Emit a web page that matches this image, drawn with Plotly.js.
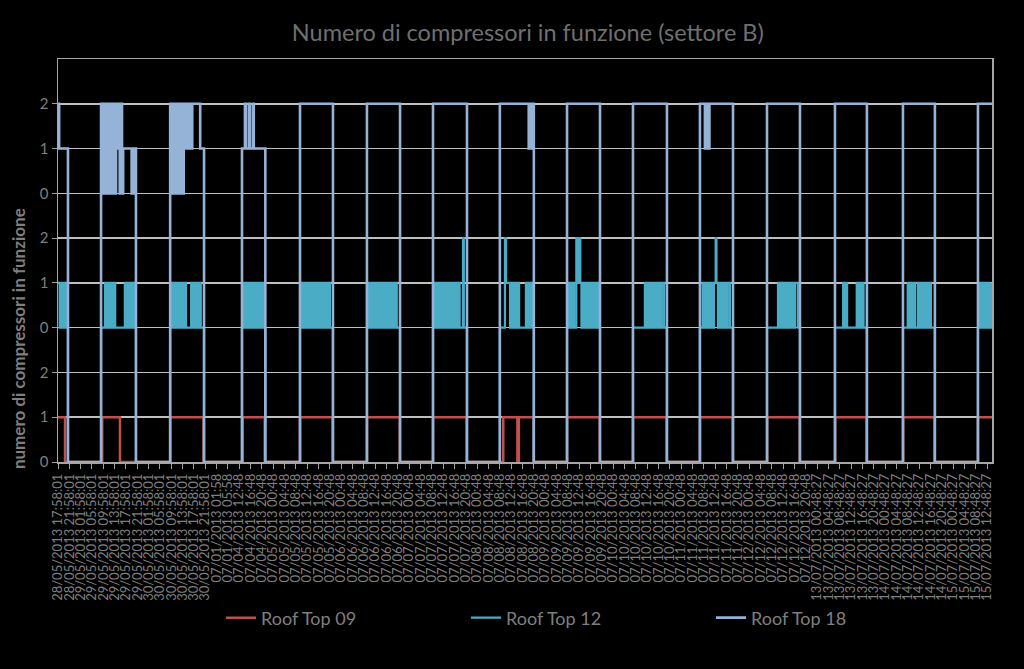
<!DOCTYPE html>
<html>
<head>
<meta charset="utf-8">
<script src="https://cdn.plot.ly/plotly-3.0.1.min.js"></script>
<style>
html,body{margin:0;padding:0;background:#000;}
#chart{width:1024px;height:669px;}
</style>
</head>
<body>
<div id="chart"></div>
<script>
// Tick labels (category labels, one per tick)
const tickLabels = [
"28/05/2013 17:58:01","28/05/2013 21:58:01",
"29/05/2013 01:58:01","29/05/2013 05:58:01","29/05/2013 09:58:01","29/05/2013 13:58:01","29/05/2013 17:58:01","29/05/2013 21:58:01",
"30/05/2013 01:58:01","30/05/2013 05:58:01","30/05/2013 09:58:01","30/05/2013 13:58:01","30/05/2013 17:58:01","30/05/2013 21:58:01",
"07/01/2013 01:58","07/01/2013 05:58",
"07/04/2013 12:48","07/04/2013 16:48","07/04/2013 20:48",
"07/05/2013 00:48","07/05/2013 04:48","07/05/2013 08:48","07/05/2013 12:48","07/05/2013 16:48","07/05/2013 20:48",
"07/06/2013 00:48","07/06/2013 04:48","07/06/2013 08:48","07/06/2013 12:48","07/06/2013 16:48","07/06/2013 20:48",
"07/07/2013 00:48","07/07/2013 04:48","07/07/2013 08:48","07/07/2013 12:48","07/07/2013 16:48","07/07/2013 20:48",
"07/08/2013 00:48","07/08/2013 04:48","07/08/2013 08:48","07/08/2013 12:48","07/08/2013 16:48","07/08/2013 20:48",
"07/09/2013 00:48","07/09/2013 04:48","07/09/2013 08:48","07/09/2013 12:48","07/09/2013 16:48","07/09/2013 20:48",
"07/10/2013 00:48","07/10/2013 04:48","07/10/2013 08:48","07/10/2013 12:48","07/10/2013 16:48","07/10/2013 20:48",
"07/11/2013 00:48","07/11/2013 04:48","07/11/2013 08:48","07/11/2013 12:48","07/11/2013 16:48","07/11/2013 20:48",
"07/12/2013 00:48","07/12/2013 04:48","07/12/2013 08:48","07/12/2013 12:48","07/12/2013 16:48","07/12/2013 20:48",
"13/07/2013 00:48:27","13/07/2013 04:48:27","13/07/2013 08:48:27","13/07/2013 12:48:27","13/07/2013 16:48:27","13/07/2013 20:48:27",
"14/07/2013 00:48:27","14/07/2013 04:48:27","14/07/2013 08:48:27","14/07/2013 12:48:27","14/07/2013 16:48:27","14/07/2013 20:48:27",
"15/07/2013 00:48:27","15/07/2013 04:48:27","15/07/2013 08:48:27","15/07/2013 12:48:27"
];

// Y tick labels: three stacked bands (RT09: 0-2, RT12: 3-5, RT18: 6-8)
const yTickLabels = ["0","1","2","0","1","2","0","1","2"];

// Step series: x = position in tick-label units, y = plotted level (value changes at x)
const rt09X = [0,0.62, 3.9,5.47, 9.9,12.85, 16.3,18.25, 21.36,24.25, 27.27,30.17, 33.1,36.08, 39.3,40.55,40.68,41.98, 44.93,47.82, 50.75,53.73, 56.66,59.56, 62.6,65.47, 68.6,71.38, 74.6,77.38, 81.2,82.44];
const rt09Y = [1,0, 1,0, 1,0, 1,0, 1,0, 1,0, 1,0, 1,0,1,0, 1,0, 1,0, 1,0, 1,0, 1,0, 1,0, 1,1];

const rt12X = [
0,0.15,0.25,0.4,0.5,0.65,0.75,0.82,0.88,
3.8,4.15,4.3,4.4,4.55,4.65,4.8,4.9,5.05,5.9,6.05,6.15,6.3,6.4,6.55,6.65,6.75,6.88,
9.9,10.05,10.15,10.3,10.4,10.55,10.65,10.8,10.9,11.05,11.15,11.3,11.75,11.85,11.95,12.1,12.2,12.35,12.45,12.6,12.89,
16.24,16.35,16.5,16.6,16.75,16.85,17.0,17.1,17.25,17.35,17.5,17.6,17.75,17.85,18.0,18.1,18.2,18.3,
21.36,21.5,21.6,21.75,21.85,22.0,22.1,22.25,22.35,22.5,22.6,22.75,22.85,23.0,23.1,23.25,23.35,23.5,23.6,23.75,23.85,24.0,24.27,
27.27,27.4,27.5,27.65,27.75,27.9,28.0,28.15,28.25,28.4,28.5,28.65,28.75,28.9,29.0,29.15,29.25,29.4,29.5,29.65,29.75,29.9,30.0,30.19,
33.1,33.2,33.3,33.45,33.55,33.7,33.8,33.95,34.05,34.2,34.3,34.45,34.55,34.7,34.8,34.95,35.05,35.2,35.3,35.45,35.55,35.75,35.82,36.1,
39.0,39.45,39.55,39.9,40.0,40.15,40.3,40.45,40.6,40.7,41.3,41.45,41.6,41.75,41.85,41.95,42.0,
44.93,45.1,45.25,45.4,45.55,45.75,45.85,46.0,46.1,46.2,46.35,46.5,46.65,46.8,46.95,47.1,47.25,47.4,47.55,47.7,47.84,
50.75,51.8,51.95,52.05,52.2,52.3,52.45,52.55,52.7,52.8,52.95,53.05,53.2,53.3,53.5,53.75,
56.66,56.9,57.05,57.15,57.3,57.4,57.55,57.65,57.8,57.9,58.05,58.12,58.25,58.35,58.5,58.6,58.75,58.85,59.0,59.1,59.3,59.58,
62.58,63.55,63.7,63.8,63.95,64.05,64.2,64.3,64.45,64.55,64.7,64.8,64.95,65.05,65.3,65.49,
68.58,69.3,69.4,69.55,69.65,70.5,70.6,70.75,70.85,71.0,71.1,71.3,71.4,
74.58,75.0,75.15,75.25,75.4,75.5,75.65,75.9,76.05,76.15,76.3,76.4,76.55,76.65,76.8,76.9,77.05,77.3,77.4,
81.2,81.35,81.5,81.6,81.75,81.85,82.0,82.1,82.25,82.44
];
const rt12Y = [
4,3,4,3,4,3,4,3,0,
3,4,3,4,3,4,3,4,3,4,3,4,3,4,3,4,3,0,
4,3,4,3,4,3,4,3,4,3,4,3,4,3,4,3,4,3,4,3,0,
3,4,3,4,3,4,3,4,3,4,3,4,3,4,3,4,3,0,
4,3,4,3,4,3,4,3,4,3,4,3,4,3,4,3,4,3,4,3,4,3,0,
4,3,4,3,4,3,4,3,4,3,4,3,4,3,4,3,4,3,4,3,4,3,3,0,
4,3,4,3,4,3,4,3,4,3,4,3,4,3,4,3,4,3,4,3,3,5,3,0,
3,5,4,3,4,3,4,3,4,3,4,3,4,3,4,3,0,
3,4,3,4,3,5,4,5,4,3,4,3,4,3,4,3,4,3,4,3,0,
3,4,3,4,3,4,3,4,3,4,3,4,3,4,3,0,
3,4,3,4,3,4,3,4,3,4,5,4,3,4,3,4,3,4,3,4,3,0,
3,4,3,4,3,4,3,4,3,4,3,4,3,4,3,0,
3,4,3,4,3,4,3,4,3,4,3,3,0,
3,4,3,4,3,4,3,4,3,4,3,4,3,4,3,4,3,3,0,
3,4,3,4,3,4,3,4,3,4
];

const rt18X = [
0,0.1,0.88,
3.8,3.92,4.02,4.14,4.24,4.36,4.46,4.58,4.68,4.8,4.9,5.02,5.12,5.24,5.34,5.45,5.55,5.65,5.75,6.5,6.6,6.7,6.8,6.88,
9.9,10.0,10.1,10.2,10.3,10.4,10.5,10.6,10.7,10.8,10.9,11.0,11.1,11.2,11.3,11.4,11.6,11.7,11.85,12.55,12.89,
16.24,16.5,16.58,16.85,16.93,17.2,17.28,18.3,
21.36,24.27,
27.27,30.19,
33.1,36.1,
39.0,41.55,41.65,41.8,41.9,42.0,
44.93,47.84,
50.75,53.75,
56.66,57.1,57.2,57.4,57.5,59.58,
62.58,65.49,
68.58,71.4,
74.58,77.4,
81.2,82.44
];
const rt18Y = [
8,7,0,
8,6,8,6,8,6,8,6,8,6,8,6,8,7,8,6,8,6,7,6,7,6,7,0,
8,6,8,6,8,6,8,6,8,6,8,6,8,7,8,7,8,7,8,7,0,
7,8,7,8,7,8,7,0,
8,0,
8,0,
8,0,
8,7,8,7,8,0,
8,0,
8,0,
8,7,8,7,8,0,
8,0,
8,0,
8,0,
8,8
];

const seriesNames = ["Roof Top 09","Roof Top 12","Roof Top 18"];
const seriesColors = ["#C0504D","#4BACC6","#95B3D7"];

const textColor = "#7f7f7f";
const fontFam = "Lato, 'Open Sans', sans-serif";

const traces = [
  {x: rt09X, y: rt09Y, name: seriesNames[0], type: "scatter", mode: "lines",
   line: {color: seriesColors[0], width: 2.5, shape: "hv"}, cliponaxis: true},
  {x: rt12X, y: rt12Y, name: seriesNames[1], type: "scatter", mode: "lines",
   line: {color: seriesColors[1], width: 2.2, shape: "hv"}, cliponaxis: true},
  {x: rt18X, y: rt18Y, name: seriesNames[2], type: "scatter", mode: "lines",
   line: {color: seriesColors[2], width: 2.6, shape: "hv"}, cliponaxis: true}
];

const tickVals = tickLabels.map((_, i) => i);

const layout = {
  width: 1024, height: 669,
  paper_bgcolor: "#000", plot_bgcolor: "#000",
  margin: {l: 58, r: 32, t: 59, b: 207},
  font: {family: fontFam, color: textColor},
  title: {
    text: "Numero di compressori in funzione (settore B)",
    font: {family: fontFam, size: 23.5, color: "#6f6f6f"},
    xref: "paper", x: 0.503, xanchor: "center",
    yref: "container", y: 1 - 33/669, yanchor: "middle"
  },
  xaxis: {
    range: [0, 82.44], tickmode: "array", tickvals: tickVals, ticktext: tickLabels,
    tickangle: -90, tickfont: {family: fontFam, size: 13, color: textColor},
    ticks: "outside", ticklen: 5, tickcolor: "#a0a0a0", tickwidth: 1,
    showline: true, linecolor: "#a6a6a6", linewidth: 1.5, mirror: true,
    showgrid: false, zeroline: false, layer: "above traces", fixedrange: true
  },
  yaxis: {
    range: [0, 9], tickmode: "array", tickvals: [0,1,2,3,4,5,6,7,8], ticktext: yTickLabels,
    tickfont: {family: fontFam, size: 15, color: textColor},
    ticks: "outside", ticklen: 5, tickcolor: "#a0a0a0",
    showline: true, linecolor: "#a6a6a6", linewidth: 1.5, mirror: true,
    showgrid: true, gridcolor: "#bfbfbf", gridwidth: 1.5, zeroline: false,
    layer: "below traces", fixedrange: true
  },
  legend: {
    orientation: "h", x: 0.1745, xanchor: "left", y: -0.387, yanchor: "middle",
    font: {family: fontFam, size: 18, color: textColor},
    bgcolor: "rgba(0,0,0,0)", entrywidth: 200, entrywidthmode: "pixels"
  },
  annotations: [{
    text: "numero di compressori in funzione",
    textangle: -90, showarrow: false,
    xref: "paper", x: (18 - 58) / 934, xanchor: "center",
    yref: "paper", y: 0.305, yanchor: "middle",
    font: {family: fontFam, size: 17, color: textColor, weight: 700}
  }],
  showlegend: true
};

Plotly.newPlot("chart", traces, layout, {staticPlot: true, displayModeBar: false});
</script>
</body>
</html>
